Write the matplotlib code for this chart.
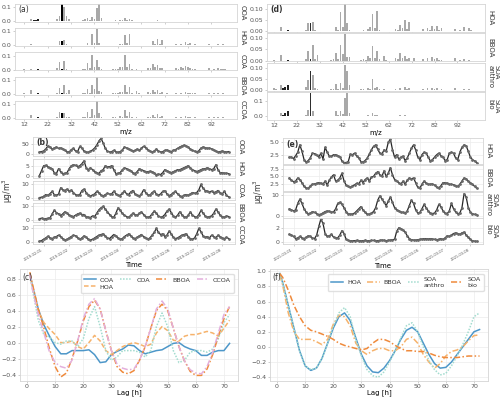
import numpy as np
import matplotlib
matplotlib.use("Agg")
import matplotlib.pyplot as plt

plt.rcParams['font.family'] = ['DejaVu Sans']
plt.rcParams['axes.edgecolor'] = '#d5d5d5'
plt.rcParams['axes.linewidth'] = 0.6
plt.rcParams['xtick.color'] = '#555555'
plt.rcParams['ytick.color'] = '#555555'
plt.rcParams['text.color'] = '#333333'

# ---------------- mass spectra (m/z : fraction) ----------------
mz = list(range(12, 101))
ms_ticks = [12, 22, 32, 42, 52, 62, 72, 82, 92]

spec_a_names = ['OOA', 'HOA', 'COA', 'BBOA', 'CCOA']
OOA_a = {12:0.004, 14:0.003, 15:0.015, 16:0.006, 17:0.01, 18:0.012, 24:0.002, 25:0.003, 26:0.012,
         27:0.035, 28:0.12, 29:0.1, 30:0.035, 31:0.015, 32:0.004, 36:0.003, 37:0.006, 38:0.012,
         39:0.025, 40:0.008, 41:0.03, 42:0.015, 43:0.095, 44:0.12, 45:0.02, 46:0.003, 50:0.004,
         51:0.006, 52:0.003, 53:0.01, 54:0.006, 55:0.02, 56:0.008, 57:0.012, 58:0.005, 59:0.004,
         60:0.004, 65:0.003, 67:0.004, 69:0.005, 71:0.004, 73:0.003, 77:0.003, 79:0.003, 81:0.003,
         83:0.002, 85:0.002, 91:0.003}
HOA_a = {12:0.002, 14:0.003, 15:0.012, 17:0.003, 18:0.005, 26:0.006, 27:0.03, 28:0.03, 29:0.04,
         30:0.008, 39:0.02, 40:0.005, 41:0.08, 42:0.018, 43:0.115, 44:0.015, 45:0.003, 51:0.004,
         53:0.012, 54:0.012, 55:0.075, 56:0.018, 57:0.085, 58:0.006, 65:0.006, 66:0.005, 67:0.028,
         68:0.012, 69:0.045, 70:0.01, 71:0.035, 77:0.008, 79:0.012, 80:0.004, 81:0.022, 82:0.008,
         83:0.02, 84:0.004, 85:0.012, 91:0.01, 93:0.006, 95:0.012, 97:0.012, 98:0.003}
COA_a = {12:0.002, 15:0.006, 18:0.003, 26:0.01, 27:0.055, 28:0.004, 29:0.06, 30:0.006, 37:0.003,
         38:0.006, 39:0.045, 40:0.008, 41:0.105, 42:0.02, 43:0.068, 44:0.015, 45:0.003, 50:0.003,
         51:0.006, 52:0.004, 53:0.018, 54:0.015, 55:0.105, 56:0.02, 57:0.04, 58:0.005, 60:0.003,
         65:0.01, 66:0.008, 67:0.04, 68:0.02, 69:0.03, 70:0.008, 71:0.012, 77:0.008, 78:0.004,
         79:0.018, 80:0.008, 81:0.022, 82:0.015, 83:0.012, 84:0.005, 85:0.004, 91:0.01, 93:0.005,
         95:0.01, 96:0.005, 97:0.005, 98:0.004}
BBOA_a = {12:0.002, 15:0.025, 18:0.003, 26:0.008, 27:0.04, 28:0.005, 29:0.065, 30:0.008, 31:0.025,
          37:0.004, 38:0.008, 39:0.035, 40:0.006, 41:0.065, 42:0.035, 43:0.12, 44:0.02, 45:0.015,
          50:0.004, 51:0.008, 52:0.005, 53:0.015, 54:0.01, 55:0.06, 56:0.012, 57:0.045, 58:0.008,
          60:0.018, 61:0.004, 65:0.01, 66:0.006, 67:0.025, 68:0.01, 69:0.03, 70:0.006, 71:0.015,
          73:0.008, 77:0.006, 79:0.008, 81:0.015, 82:0.006, 83:0.008, 84:0.004, 85:0.004, 91:0.008,
          93:0.004, 95:0.006, 97:0.004}
CCOA_a = {12:0.003, 15:0.02, 17:0.003, 18:0.006, 26:0.01, 27:0.04, 28:0.035, 29:0.035, 30:0.006,
          31:0.005, 37:0.004, 38:0.008, 39:0.045, 40:0.008, 41:0.065, 42:0.02, 43:0.12, 44:0.035,
          45:0.005, 50:0.005, 51:0.008, 53:0.015, 54:0.01, 55:0.055, 56:0.012, 57:0.045, 58:0.006,
          60:0.006, 65:0.01, 66:0.006, 67:0.02, 68:0.01, 69:0.025, 70:0.006, 71:0.015, 77:0.008,
          79:0.01, 81:0.015, 82:0.006, 83:0.01, 85:0.006, 91:0.008, 93:0.005, 95:0.008, 97:0.006}

spec_d_names = ['HOA', 'BBOA', 'SOA\nanthro', 'SOA\nbio']
HOA_d = {12:0.002, 14:0.003, 15:0.018, 17:0.003, 18:0.006, 26:0.008, 27:0.035, 28:0.035, 29:0.04,
         30:0.008, 39:0.02, 40:0.005, 41:0.085, 42:0.02, 43:0.125, 44:0.035, 45:0.004, 51:0.004,
         53:0.01, 54:0.018, 55:0.078, 56:0.015, 57:0.09, 58:0.006, 65:0.01, 66:0.008, 67:0.03,
         68:0.015, 69:0.05, 70:0.01, 71:0.04, 77:0.01, 79:0.015, 80:0.005, 81:0.025, 82:0.01,
         83:0.025, 84:0.005, 85:0.015, 91:0.01, 93:0.006, 95:0.02, 97:0.015, 98:0.004}
BBOA_d = {12:0.002, 15:0.025, 18:0.004, 26:0.008, 27:0.045, 28:0.008, 29:0.07, 30:0.008, 31:0.025,
          37:0.004, 38:0.008, 39:0.035, 40:0.006, 41:0.07, 42:0.03, 43:0.12, 44:0.015, 45:0.015,
          50:0.005, 51:0.008, 52:0.005, 53:0.02, 54:0.01, 55:0.065, 56:0.012, 57:0.045, 58:0.008,
          60:0.02, 61:0.005, 65:0.012, 66:0.008, 67:0.035, 68:0.012, 69:0.02, 70:0.006, 71:0.012,
          73:0.01, 77:0.006, 79:0.01, 81:0.015, 82:0.006, 83:0.01, 84:0.004, 85:0.005, 91:0.01,
          93:0.005, 95:0.008, 97:0.005}
SOAa_d = {12:0.01, 13:0.003, 15:0.02, 16:0.008, 17:0.015, 18:0.02, 26:0.015, 27:0.045, 28:0.086,
          29:0.065, 30:0.01, 31:0.004, 37:0.003, 38:0.005, 39:0.028, 40:0.005, 41:0.03, 42:0.01,
          43:0.11, 44:0.086, 45:0.02, 50:0.004, 51:0.006, 53:0.01, 54:0.006, 55:0.05, 56:0.008,
          57:0.015, 58:0.005, 60:0.005, 65:0.005, 67:0.01, 69:0.012, 70:0.004, 71:0.01, 77:0.006,
          79:0.008, 81:0.01, 82:0.004, 83:0.008, 85:0.006, 91:0.008, 95:0.006, 97:0.004}
SOAb_d = {12:0.004, 15:0.025, 16:0.012, 17:0.02, 18:0.035, 26:0.012, 27:0.04, 28:0.155, 29:0.035,
          30:0.005, 31:0.003, 37:0.003, 39:0.035, 40:0.006, 41:0.035, 42:0.015, 43:0.12, 44:0.155,
          45:0.02, 53:0.008, 55:0.025, 56:0.006, 57:0.01, 58:0.003, 60:0.003, 65:0.004, 67:0.006,
          69:0.008, 71:0.005, 77:0.003, 79:0.004, 81:0.004, 83:0.003, 91:0.004, 95:0.003}

# ---------------- time series (2-hourly) ----------------
ts_b_names = ['OOA', 'HOA', 'COA', 'BBOA', 'CCOA']
OOA_b = [10,12,15,25,40,35,25,30,35,28, 30,25,18,12,10,22,28,15,12,38,
         28,15,10,8,14,20,30,45,65,78, 55,28,14,10,12,18,12,8,12,20,
         35,30,25,20,15,18,25,18,30,38, 32,22,14,10,15,25,15,10,12,18,
         20,15,12,18,22,28,35,40,44,40, 35,25,18,14,10,16,30,35,32,28,
         30,25,20,14,10,12,15,12,10,12]
HOA_b = [0,2.5,5,5.2,4.5,4,3.5,1.5,1,3.5, 2,1,1.2,1.5,3.5,5,5.5,5.2,4.5,5,
         6,7.5,4,3,4,3,2,1.5,1,2.5, 3,5,4.5,4.5,5,3,1,1.2,1.5,3,
         4,3.5,3,2.5,1.5,1,2,3.5,3,2.5, 2,2,2.2,2,1.5,0.5,0.8,0.5,1.5,3,
         2.5,2,1.5,2,2.5,3,3,3.5,4,4.5, 5,4,3,2.5,2,2.5,3,3.5,3.5,4,
         3.5,3,3.5,5.5,3,1.5,1.5,1.2,1.2,1]
COA_b = [0.3,0.5,1.2,2.5,2.0,3.2,4.8,2.5,2.0,2.8, 7.5,6.0,5.5,6.5,5.0,5.8,4.0,2.5,2.0,2.5,
         5.5,6.5,4.0,2.5,1.5,2.2,3.0,4.8,4.0,2.0, 1.5,2.5,3.5,2.8,3.0,5.0,3.0,2.0,1.8,3.5,
         5.2,3.0,2.5,4.5,5.5,3.0,2.0,1.5,3.0,6.0, 4.0,2.5,2.0,4.0,5.0,3.0,2.0,3.0,4.8,5.2,
         3.0,1.8,2.5,4.0,4.8,3.0,1.5,1.0,2.0,2.5, 2.0,3.0,4.0,3.5,4.0,6.0,10.0,7.0,5.5,5.0,
         4.5,5.0,4.0,4.5,5.5,4.0,3.0,5.0,2.0,0.8]
BBOA_b = [1.0,1.2,0.8,1.0,1.2,1.5,4.5,7.0,5.5,4.5, 3.0,4.5,6.0,5.0,3.5,3.0,2.5,3.5,4.5,5.0,
          4.0,4.0,2.5,2.0,1.8,3.0,2.5,5.0,7.5,9.0, 10.0,8.0,6.0,4.0,2.5,2.0,5.0,9.0,7.0,5.0,
          3.5,2.5,2.0,3.5,5.0,4.0,3.5,5.0,6.0,4.0, 2.5,2.0,2.5,4.5,6.5,5.0,3.0,2.0,2.5,4.0,
          6.5,8.0,5.5,3.0,2.0,3.5,6.0,4.0,2.5,2.0, 3.5,6.0,3.5,2.5,2.0,4.0,7.0,5.0,3.0,2.0,
          2.5,3.0,5.0,8.0,6.0,3.5,2.5,2.0,3.0,2.5]
CCOA_b = [0.5,1.0,2.0,3.0,4.2,3.0,2.5,3.5,4.0,5.0, 4.0,2.5,1.5,2.0,3.0,4.0,5.0,4.5,3.0,2.0,
          3.0,4.5,3.5,2.0,1.5,2.0,3.0,4.0,5.0,5.5, 6.0,4.5,3.0,2.5,4.0,5.5,4.5,3.0,2.0,2.5,
          4.0,5.0,6.0,4.5,3.0,2.5,3.5,4.5,5.5,4.0, 3.0,2.0,3.0,5.0,7.0,10.0,7.0,5.5,6.0,4.0,
          5.0,8.0,6.0,3.5,2.5,3.0,4.0,5.0,5.5,6.0, 4.0,2.5,2.0,3.0,6.0,10.0,7.5,4.5,3.5,4.0,
          3.0,5.0,4.0,3.0,5.0,4.0,3.0,2.5,3.5,2.5]
ts_b_dates = ['2019-02-01', '2019-02-02', '2019-02-03', '2019-02-04',
              '2019-02-05', '2019-02-06', '2019-02-07', '2019-02-08']

ts_e_names = ['HOA', 'BBOA', 'SOA\nanthro', 'SOA\nbio']
HOA_e = [2.0,2.0,1.7,2.3,3.0,4.5,3.2,1.5,1.0,1.3, 1.9,2.8,2.7,2.4,2.0,2.8,1.6,4.0,3.0,2.2,
         2.2,2.5,2.5,2.3,2.1,1.2,0.9,0.9,1.1,2.6, 2.5,2.8,2.2,1.8,1.1,1.0,1.3,1.8,2.6,3.5,
         4.2,4.5,3.6,2.8,2.6,3.5,3.2,5.0,5.7,3.5, 2.0,2.5,1.6,2.0,2.2,1.3,1.8,2.8,3.8,4.5,
         3.5,2.0,1.5,2.5,3.0,2.8,2.0,1.2,1.5,2.0, 2.5,2.8,2.3,2.0,1.3,1.5,2.8,3.0,2.8,1.8,
         1.5,3.0,4.0,4.5,4.3,3.2,2.0,1.5,1.2,0.9]
BBOA_e = [4.5,3.8,3.3,3.5,4.5,4.0,3.0,1.8,1.3,1.2, 2.0,2.5,2.6,2.8,3.0,2.8,2.5,3.5,2.2,3.8,
          4.8,5.5,3.5,3.8,4.5,6.0,3.5,2.2,1.8,1.5, 2.0,2.3,2.8,2.5,3.8,3.0,4.0,4.5,3.5,4.8,
          5.0,6.0,6.5,5.5,5.0,6.8,5.0,6.0,7.8,5.5, 4.0,3.5,3.0,2.5,3.5,2.5,3.8,4.5,4.2,4.5,
          3.0,1.5,1.2,2.5,3.5,2.8,2.5,2.5,2.6,2.2, 1.5,1.3,2.0,3.0,3.0,2.8,2.5,2.5,2.3,2.0,
          1.8,2.5,3.5,4.5,4.2,3.5,3.0,2.5,1.8,1.2]
SOAa_e = [3.5,3.0,2.5,3.0,6.0,8.0,6.0,3.5,2.0,1.2, 1.5,2.2,1.8,1.2,0.8,1.0,1.6,2.2,2.5,2.3,
          2.0,2.0,3.5,6.0,6.5,5.5,4.0,2.2,1.2,1.0, 1.1,1.5,2.5,3.5,4.5,3.0,1.8,1.0,1.0,1.5,
          2.2,4.0,7.5,9.5,8.0,6.5,5.0,7.0,9.0,6.5, 4.0,3.0,2.5,2.0,1.8,1.5,2.5,5.0,7.5,6.0,
          3.0,1.5,1.8,3.5,5.5,4.0,2.5,1.5,1.3,1.5, 3.0,5.5,4.5,2.5,1.5,1.3,2.5,6.0,3.5,2.0,
          1.2,1.5,4.0,10.5,9.0,4.0,2.0,1.2,0.9,0.8]
SOAb_e = [1.1,1.0,0.8,0.5,0.6,0.8,0.6,0.5,0.7,0.9, 0.8,0.6,0.5,1.0,2.2,3.2,2.6,1.2,0.8,0.9,
          1.1,0.7,0.6,0.6,1.0,1.6,1.2,0.4,0.25,0.2, 0.2,0.22,0.25,0.2,0.2,0.22,0.25,0.22,0.2,0.25,
          0.25,0.2,0.22,0.25,0.3,0.25,0.22,0.25,0.3,0.35, 0.4,1.5,2.0,1.9,1.7,1.4,0.9,0.5,0.35,0.3,
          0.3,0.35,0.4,0.45,0.5,0.5,0.45,0.5,0.45,0.4, 0.35,0.4,0.5,0.4,0.6,0.9,0.8,1.0,1.2,1.3,
          1.2,1.1,1.3,1.4,1.0,0.7,0.4,0.2,0.15,0.12]
ts_e_dates = ['2021-03-01', '2021-03-02', '2021-03-03', '2021-03-04',
              '2021-03-05', '2021-03-06', '2021-03-07', '2021-03-08']

# ---------------- autocorrelation ----------------
lags = [1] + list(range(2, 73, 2))
ac_c = {
    'OOA':  [0.85,0.7,0.42,0.22,0.08,-0.05,-0.14,-0.14,-0.1,-0.1,-0.1,-0.09,-0.15,-0.25,-0.24,-0.15,
             -0.11,-0.08,-0.03,-0.04,-0.1,-0.14,-0.12,-0.1,-0.09,-0.05,-0.01,0.0,-0.05,-0.08,-0.1,
             -0.16,-0.16,-0.12,-0.1,-0.1,-0.01],
    'HOA':  [0.85,0.68,0.4,0.25,0.17,0.1,0.0,0.0,0.02,-0.05,-0.08,0.0,0.09,0.02,-0.1,-0.15,-0.1,
             -0.05,-0.02,0.0,-0.02,-0.05,-0.02,0.12,0.2,0.15,0.03,0.02,0.08,0.1,0.1,0.12,0.14,0.12,
             0.08,0.18,0.28],
    'COA':  [0.87,0.65,0.28,0.1,0.07,0.0,-0.02,0.02,0.02,-0.05,0.05,0.3,0.45,0.2,-0.1,-0.22,-0.18,
             -0.1,-0.1,-0.1,-0.12,-0.18,-0.1,0.2,0.37,0.2,-0.1,-0.25,-0.22,-0.12,-0.1,-0.1,-0.12,
             -0.08,0.05,0.25,0.35],
    'BBOA': [0.88,0.72,0.42,0.18,-0.08,-0.3,-0.43,-0.38,-0.2,0.02,0.27,0.45,0.53,0.42,0.15,-0.1,
             -0.3,-0.37,-0.39,-0.35,-0.22,-0.05,0.18,0.4,0.48,0.4,0.18,-0.05,-0.23,-0.36,-0.41,-0.41,
             -0.33,-0.15,0.08,0.3,0.45],
    'CCOA': [0.85,0.65,0.35,0.12,-0.12,-0.25,-0.3,-0.32,-0.22,0.02,0.3,0.48,0.55,0.42,0.15,-0.1,
             -0.27,-0.32,-0.34,-0.33,-0.22,-0.05,0.18,0.42,0.52,0.42,0.18,-0.05,-0.23,-0.34,-0.38,
             -0.39,-0.3,-0.12,0.12,0.35,0.45],
}
ac_f = {
    'HOA':        [0.97,0.85,0.55,0.25,-0.05,-0.25,-0.31,-0.28,-0.15,0.05,0.25,0.4,0.45,0.35,0.12,
                   -0.1,-0.25,-0.33,-0.34,-0.28,-0.18,-0.05,0.1,0.22,0.26,0.2,0.05,-0.1,-0.22,-0.28,
                   -0.27,-0.2,-0.1,0.0,0.1,0.2,0.23],
    'BBOA':       [0.95,0.82,0.45,0.2,0.1,0.1,0.1,0.07,0.03,0.1,0.3,0.42,0.4,0.28,0.05,-0.05,-0.1,
                   -0.05,-0.02,-0.02,-0.05,-0.05,0.0,0.1,0.13,0.05,-0.1,-0.2,-0.28,-0.22,-0.12,-0.06,
                   -0.04,0.0,0.08,0.15,0.16],
    'SOA\nanthro': [0.97,0.85,0.55,0.25,-0.05,-0.25,-0.3,-0.28,-0.15,0.05,0.27,0.45,0.52,0.4,0.1,
                   -0.12,-0.3,-0.38,-0.4,-0.33,-0.2,-0.05,0.12,0.28,0.32,0.2,0.0,-0.18,-0.3,-0.37,
                   -0.35,-0.25,-0.12,0.03,0.2,0.4,0.45],
    'SOA\nbio':   [0.97,0.92,0.75,0.55,0.4,0.28,0.22,0.2,0.17,0.14,0.1,0.05,0.02,0.0,-0.02,-0.04,
                   -0.02,0.05,0.1,0.1,0.07,0.02,-0.02,-0.05,-0.05,-0.06,-0.06,-0.08,-0.11,-0.13,
                   -0.14,-0.14,-0.14,-0.13,-0.12,-0.12,-0.12],
}

# ---------------- drawing ----------------
W, H = 500, 399
fig = plt.figure(figsize=(W / 100, H / 100), dpi=100)


def add_ax(l, t, w, h):
    return fig.add_axes([l / W, 1 - (t + h) / H, w / W, h / H])


def style(ax, fs=4.5):
    ax.tick_params(length=1.5, width=0.5, labelsize=fs, pad=1, color='#bbbbbb')
    for s in ax.spines.values():
        s.set_color('#d5d5d5')
        s.set_linewidth(0.6)


def row_label(ax, txt, fs=5):
    ax.text(1.012, 0.5, txt, transform=ax.transAxes, rotation=270, ha='left', va='center',
            fontsize=fs, linespacing=0.95)


def bar_colors(dark28):
    cols = []
    for m in mz:
        if m == 28:
            cols.append(dark28)
        elif m in (16, 17, 18):
            cols.append('#222222')
        else:
            cols.append('#a9a9a9')
    return cols


# (a)
for i, (name, d) in enumerate(zip(spec_a_names, [OOA_a, HOA_a, COA_a, BBOA_a, CCOA_a])):
    ax = add_ax(15, 4 + 24.2 * i, 222, 18)
    ax.bar(mz, [d.get(m, 0) for m in mz], width=0.75, color=bar_colors('#000000'), lw=0)
    ax.set_xlim(8, 103)
    ax.set_ylim(-0.006, 0.123)
    ax.set_yticks([0.0, 0.1])
    ax.set_xticks(ms_ticks)
    ax.yaxis.set_major_formatter(matplotlib.ticker.FormatStrFormatter('%.1f'))
    style(ax)
    if i < 4:
        ax.tick_params(labelbottom=False)
    row_label(ax, name)
    if i == 0:
        ax.text(0.015, 0.93, '(a)', transform=ax.transAxes, fontsize=5.5, va='top')
    if i == 4:
        ax.set_xlabel('m/z', fontsize=5, labelpad=1)

# (d)
spec_d = [HOA_d, BBOA_d, SOAa_d, SOAb_d]
for i, (name, d) in enumerate(zip(spec_d_names, spec_d)):
    ax = add_ax(267, 4 + 29.3 * i, 218, 28)
    ax.bar(mz, [d.get(m, 0) for m in mz], width=0.75, color=bar_colors('#2e2e2e'), lw=0)
    ax.set_xlim(9, 104)
    if i < 3:
        ax.set_ylim(-0.003, 0.122)
        ax.set_yticks([0.0, 0.05, 0.10])
        ax.yaxis.set_major_formatter(matplotlib.ticker.FormatStrFormatter('%.2f'))
    else:
        ax.set_ylim(-0.023, 0.16)
        ax.set_yticks([0.0, 0.1])
        ax.yaxis.set_major_formatter(matplotlib.ticker.FormatStrFormatter('%.1f'))
    ax.set_xticks(ms_ticks)
    style(ax)
    if i < 3:
        ax.tick_params(labelbottom=False)
    row_label(ax, name)
    if i == 0:
        ax.text(0.015, 0.95, '(d)', transform=ax.transAxes, fontsize=5.5, va='top', fontweight='bold')
    if i == 3:
        ax.set_xlabel('m/z', fontsize=5, labelpad=1)


def ts_panel(left, width, tops, height, names, series, ylims, yticks, dates, tag, ylab_x):
    n = len(series[0])
    t = np.arange(n) * 2.0
    tick_pos = [4 + 24 * k for k in range(len(dates))]
    for i, (name, s) in enumerate(zip(names, series)):
        ax = add_ax(left, tops[i], width, height)
        ax.plot(t, s, color='#262626', lw=0.9, marker='o', ms=1.0, mfc='#6a6a6a', mec='#6a6a6a')
        ax.set_xlim(-6, t[-1] + 6)
        ax.set_ylim(*ylims[i])
        ax.set_yticks(yticks[i])
        ax.set_xticks(tick_pos)
        ax.grid(True, color='#ececec', lw=0.5)
        ax.set_axisbelow(True)
        style(ax)
        row_label(ax, name)
        if i == 0:
            ax.text(0.015, 0.93, tag, transform=ax.transAxes, fontsize=5.5, va='top',
                    fontweight='bold')
        if i < len(series) - 1:
            ax.tick_params(labelbottom=False)
        else:
            ax.set_xticklabels(dates, rotation=30, ha='right', fontsize=2.6)
            ax.set_xlabel('Time', fontsize=5, labelpad=0.5)
    fig.text(ylab_x / W, 1 - ((tops[0] + tops[-1] + height) / 2) / H, 'μg/m$^3$',
             rotation=90, ha='center', va='center', fontsize=5.5)


ts_panel(33, 202, [137, 159, 181, 203, 225], 19, ts_b_names,
         [OOA_b, HOA_b, COA_b, BBOA_b, CCOA_b],
         [(-10, 85), (-1.2, 8.4), (-1.5, 12.5), (-1.5, 12.5), (-1.5, 12.5)],
         [[0, 50], [0, 5], [0, 10], [0, 10], [0, 10]], ts_b_dates, '(b)', 8)

ts_panel(283, 200, [138, 164.8, 191.6, 218.4], 26, ts_e_names,
         [HOA_e, BBOA_e, SOAa_e, SOAb_e],
         [(0.6, 5.9), (0.4, 8.7), (-0.6, 11.5), (-0.3, 3.3)],
         [[2.5, 5.0], [2.5, 5.0, 7.5], [0, 10], [0, 2]], ts_e_dates, '(e)', 259)

legend_kw = dict(loc='upper right', ncol=4, fontsize=4.6, handlelength=1.9, columnspacing=1.0,
                 handletextpad=0.6, borderpad=0.5, labelspacing=0.25, framealpha=0.9,
                 edgecolor='#dddddd', bbox_to_anchor=(0.995, 0.985))

# (c)
styles_c = {
    'OOA': dict(color='#4d97c9', ls='-'),
    'HOA': dict(color='#f6b26b', ls=(0, (3, 1.5))),
    'COA': dict(color='#a3dccf', ls=(0, (1, 1))),
    'BBOA': dict(color='#ef8a3c', ls=(0, (4, 1.5, 1, 1.5))),
    'CCOA': dict(color='#e3afdc', ls=(0, (4, 1.5, 1, 1.5))),
}
axc = add_ax(20, 269, 218, 112)
for name in ['OOA', 'HOA', 'COA', 'BBOA', 'CCOA']:
    axc.plot(lags, ac_c[name], lw=1.1, label=name, **styles_c[name])
axc.set_xlim(-2.5, 75)
axc.set_ylim(-0.48, 0.92)
axc.set_yticks([-0.4, -0.2, 0.0, 0.2, 0.4, 0.6, 0.8])
axc.set_xticks(range(0, 71, 10))
axc.grid(True, color='#ececec', lw=0.5)
axc.set_axisbelow(True)
style(axc)
axc.tick_params(axis='x', pad=0.5)
axc.set_xlabel('Lag [h]', fontsize=5, labelpad=0.5)
axc.text(0.012, 0.96, '(c)', transform=axc.transAxes, fontsize=5.5, va='top')
axc.legend(**legend_kw)

# (f)
styles_f = {
    'HOA': dict(color='#4d97c9', ls='-'),
    'BBOA': dict(color='#f6b26b', ls=(0, (4, 1.5, 1, 1.5))),
    'SOA\nanthro': dict(color='#a3dccf', ls=(0, (1, 1))),
    'SOA\nbio': dict(color='#ef8a3c', ls=(0, (4, 1.5, 1, 1.5))),
}
axf = add_ax(270, 269, 218, 112)
for name in ['HOA', 'BBOA', 'SOA\nanthro', 'SOA\nbio']:
    axf.plot(lags, ac_f[name], lw=1.1, label=name, **styles_f[name])
axf.set_xlim(-2.5, 75)
axf.set_ylim(-0.45, 1.03)
axf.set_yticks([-0.4, -0.2, 0.0, 0.2, 0.4, 0.6, 0.8, 1.0])
axf.set_xticks(range(0, 71, 10))
axf.grid(True, color='#ececec', lw=0.5)
axf.set_axisbelow(True)
style(axf)
axf.tick_params(axis='x', pad=0.5)
axf.set_xlabel('Lag [h]', fontsize=5, labelpad=0.5)
axf.text(0.012, 0.96, '(f)', transform=axf.transAxes, fontsize=5.5, va='top')
axf.legend(**legend_kw)

fig.savefig('out.png', dpi=100)
